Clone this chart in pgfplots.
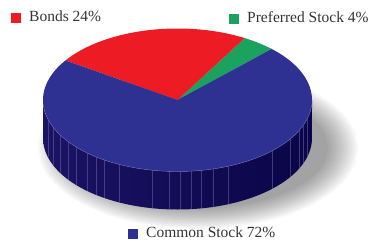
\documentclass[border=0pt]{standalone}
\usepackage{pgfplots}
\pgfplotsset{compat=1.18}
\usepackage{pgfplotstable}
\usepackage{fontspec}
\setmainfont{Liberation Serif}
\definecolor{cRed}{HTML}{ED1C24}
\definecolor{cGreen}{HTML}{1CA25F}
\definecolor{cBlue}{HTML}{2E3192}
\definecolor{sideL}{HTML}{1B1364}
\definecolor{sideR}{HTML}{0A0548}
\definecolor{facet}{HTML}{6A66A0}
\definecolor{seam}{HTML}{6C6CB4}
\definecolor{txt}{HTML}{333333}

\pgfplotstableread{
name value
Preferred 4
Bonds 24
Common 72
}\piedata
\pgfplotstablegetelem{0}{value}\of\piedata \let\vP\pgfplotsretval
\pgfplotstablegetelem{1}{value}\of\piedata \let\vB\pgfplotsretval
\pgfplotstablegetelem{2}{value}\of\piedata \let\vC\pgfplotsretval
\pgfmathsetmacro{\aStart}{45.6}
\pgfmathsetmacro{\aP}{\aStart+3.6*\vP}
\pgfmathsetmacro{\aB}{\aP+3.6*\vB}
\pgfmathsetmacro{\aC}{\aB+3.6*\vC}

\def\cx{177.5}
\def\cy{100}
\def\ra{134.5}
\def\rb{71.5}
\def\dep{38}

\begin{document}
\begin{tikzpicture}
\begin{axis}[width=368bp,height=241bp,scale only axis,
  xmin=0,xmax=368,ymin=0,ymax=241,y dir=reverse,
  axis lines=none,clip=true]
\path (axis cs:0,0) rectangle (axis cs:368,241);
% soft shadow
\pgfplotsinvokeforeach{0,...,15}{
  \addplot[draw=none, fill=black, fill opacity=0.028, domain=0:360, samples=120, variable=\t]
    ({198+(130+2*#1)*cos(\t)}, {148+(60+1.4*#1)*sin(\t)}) -- cycle;
}
% side
\addplot[draw=none, left color=sideL, right color=sideR, domain=180:540, samples=361, variable=\t]
  ({\cx+\ra*cos(\t)}, {(\t<=360) ? (\cy-\rb*sin(\t)) : (\cy+\dep+\rb*sin(\t))}) -- cycle;
% facet lines on side
\pgfplotsinvokeforeach{48,53,60,68,76,87,96,104,119,152,169,180,191,201,213,228,272,290,299,303,307}{
  \addplot[draw=facet, draw opacity=0.55, line width=0.3pt, domain=0:1, samples=2, variable=\t]
    ({#1}, {\cy+\rb*sqrt(1-((#1-\cx)/\ra)*((#1-\cx)/\ra))+\dep*\t});
}
% top wedges
\addplot[fill=cGreen, draw=none, domain=\aStart:\aP, samples=30, variable=\t]
  ({\cx+\ra*cos(\t)}, {\cy-\rb*sin(\t)}) -- (axis cs:\cx,\cy) -- cycle;
\addplot[fill=cRed, draw=none, domain=\aP:\aB, samples=80, variable=\t]
  ({\cx+\ra*cos(\t)}, {\cy-\rb*sin(\t)}) -- (axis cs:\cx,\cy) -- cycle;
\addplot[fill=cBlue, draw=none, domain=\aB:\aC, samples=200, variable=\t]
  ({\cx+\ra*cos(\t)}, {\cy-\rb*sin(\t)}) -- (axis cs:\cx,\cy) -- cycle;
% seam
\addplot[draw=seam, line width=0.4pt, domain=185:355, samples=120, variable=\t]
  ({\cx+\ra*cos(\t)}, {\cy-\rb*sin(\t)});
% legend
\node[fill=cRed, inner sep=0pt, minimum width=10bp, minimum height=9.5bp] at (axis cs:15.5,18) {};
\node[anchor=base west, inner sep=0pt, text=txt, font=\fontsize{15.5bp}{18bp}\selectfont] at (axis cs:29,22) {Bonds 24\%};
\node[fill=cGreen, inner sep=0pt, minimum width=10bp, minimum height=9.5bp] at (axis cs:234,19) {};
\node[anchor=base west, inner sep=0pt, text=txt, font=\fontsize{15.5bp}{18bp}\selectfont] at (axis cs:247,23) {Preferred Stock 4\%};
\node[fill=cBlue, inner sep=0pt, minimum width=10bp, minimum height=9.5bp] at (axis cs:133,234) {};
\node[anchor=base west, inner sep=0pt, text=txt, font=\fontsize{15.5bp}{18bp}\selectfont] at (axis cs:146,237.5) {Common Stock 72\%};
\end{axis}
\end{tikzpicture}
\end{document}
